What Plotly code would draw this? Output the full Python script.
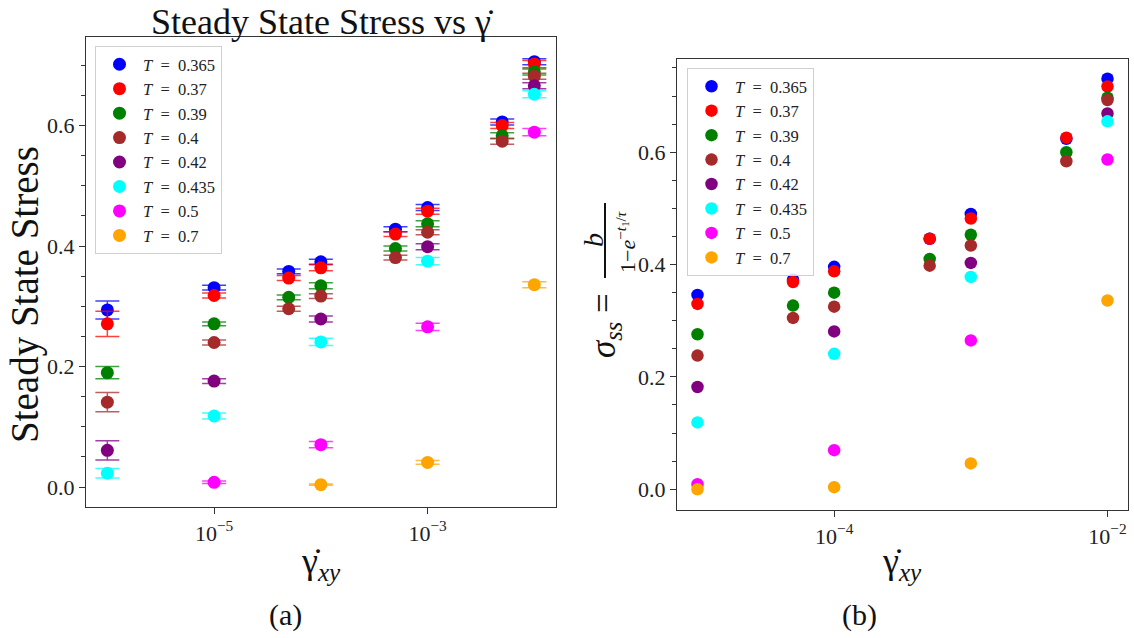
import plotly.graph_objects as go

# ---------------- panel (a): steady state stress with error bars ----------------
rates_a = [1e-6, 1e-5, 5e-5, 1e-4, 5e-4, 1e-3, 5e-3, 1e-2]

stress_a_T0365 = [0.294, 0.331, 0.358, 0.374, 0.428, 0.464, 0.606, 0.706]
stress_a_T037 = [0.271, 0.318, 0.347, 0.364, 0.420, 0.458, 0.600, 0.702]
stress_a_T039 = [0.190, 0.271, 0.315, 0.334, 0.396, 0.437, 0.583, 0.689]
stress_a_T04 = [0.141, 0.240, 0.296, 0.317, 0.381, 0.423, 0.574, 0.682]
stress_a_T042 = [0.061, 0.176, None, 0.279, None, 0.399, None, 0.666]
stress_a_T0435 = [0.023, 0.118, None, 0.241, None, 0.375, None, 0.652]
stress_a_T05 = [None, 0.008, None, 0.0705, None, 0.266, None, 0.589]
stress_a_T07 = [None, None, None, 0.004, None, 0.041, None, 0.336]

err_a_T0365 = [0.015, 0.004, 0.004, 0.004, 0.004, 0.005, 0.005, 0.005]
err_a_T037 = [0.021, 0.004, 0.004, 0.005, 0.004, 0.005, 0.005, 0.006]
err_a_T039 = [0.010, 0.003, 0.004, 0.005, 0.004, 0.005, 0.005, 0.005]
err_a_T04 = [0.016, 0.004, 0.004, 0.004, 0.004, 0.004, 0.005, 0.005]
err_a_T042 = [0.016, 0.004, None, 0.005, None, 0.005, None, 0.005]
err_a_T0435 = [0.008, 0.005, None, 0.006, None, 0.006, None, 0.006]
err_a_T05 = [None, 0.002, None, 0.005, None, 0.006, None, 0.006]
err_a_T07 = [None, None, None, 0.001, None, 0.003, None, 0.005]

# ---------------- panel (b): fitted sigma_ss ----------------
rates_b = [1e-5, 5e-5, 1e-4, 5e-4, 1e-3, 5e-3, 1e-2]

sigma_b_T0365 = [0.346, 0.373, 0.396, 0.446, 0.490, 0.624, 0.731]
sigma_b_T037 = [0.330, 0.369, 0.388, 0.446, 0.482, 0.626, 0.717]
sigma_b_T039 = [0.276, 0.327, 0.350, 0.410, 0.453, 0.600, 0.697]
sigma_b_T04 = [0.238, 0.305, 0.325, 0.398, 0.434, 0.584, 0.693]
sigma_b_T042 = [0.182, None, 0.281, None, 0.403, None, 0.669]
sigma_b_T0435 = [0.119, None, 0.241, None, 0.378, None, 0.655]
sigma_b_T05 = [0.009, None, 0.0695, None, 0.265, None, 0.587]
sigma_b_T07 = [0.000, None, 0.0036, None, 0.046, None, 0.336]

temperatures = ["0.365", "0.37", "0.39", "0.4", "0.42", "0.435", "0.5", "0.7"]
colors = ["#0000ff", "#ff0000", "#008000", "#a52a2a", "#800080", "#00ffff", "#ff00ff", "#ffa500"]
cap_colors = ["rgba(0,0,255,0.75)", "rgba(255,0,0,0.75)", "rgba(0,128,0,0.75)",
              "rgba(165,42,42,0.75)", "rgba(128,0,128,0.75)", "rgba(0,255,255,0.75)",
              "rgba(255,0,255,0.75)", "rgba(255,165,0,0.75)"]

xticks_a = [1e-5, 1e-3]
xticktext_a = ["10<sup>−5</sup>", "10<sup>−3</sup>"]
xticks_b = [1e-4, 1e-2]
xticktext_b = ["10<sup>−4</sup>", "10<sup>−2</sup>"]

series_a = [stress_a_T0365, stress_a_T037, stress_a_T039, stress_a_T04,
            stress_a_T042, stress_a_T0435, stress_a_T05, stress_a_T07]
errors_a = [err_a_T0365, err_a_T037, err_a_T039, err_a_T04,
            err_a_T042, err_a_T0435, err_a_T05, err_a_T07]
series_b = [sigma_b_T0365, sigma_b_T037, sigma_b_T039, sigma_b_T04,
            sigma_b_T042, sigma_b_T0435, sigma_b_T05, sigma_b_T07]

FONT = "Liberation Serif"
W, H = 1134, 638
EN = "\u2002"  # en space around the equals sign in legend labels
GAMMA_DOT = "\u03b3\u0307"

def legend_label(temp):
    return f"<i>T</i>{EN}={EN}{temp}"

fig = go.Figure()

for temp, col, cap, ys, es in zip(temperatures, colors, cap_colors, series_a, errors_a):
    pts = [(x, y, e) for x, y, e in zip(rates_a, ys, es) if y is not None]
    fig.add_trace(go.Scatter(
        x=[p[0] for p in pts], y=[p[1] for p in pts],
        mode="markers",
        marker=dict(color=col, size=13, line=dict(width=0)),
        error_y=dict(type="data", array=[p[2] for p in pts], visible=True,
                     color=cap, thickness=1.5, width=12),
        name=legend_label(temp),
        xaxis="x", yaxis="y", legend="legend",
    ))

for temp, col, ys in zip(temperatures, colors, series_b):
    pts = [(x, y) for x, y in zip(rates_b, ys) if y is not None]
    fig.add_trace(go.Scatter(
        x=[p[0] for p in pts], y=[p[1] for p in pts],
        mode="markers",
        marker=dict(color=col, size=12.5, line=dict(width=0)),
        name=legend_label(temp),
        xaxis="x2", yaxis="y2", legend="legend2",
    ))

frame = dict(showline=True, linecolor="#333333", linewidth=1.3, mirror=True,
             showgrid=False, zeroline=False, ticks="outside", ticklen=6,
             tickcolor="#333333", tickfont=dict(family=FONT, size=22, color="#222"))

yminor = dict(dtick=0.05, ticks="outside", ticklen=3.5, tickcolor="#333333", showgrid=False)

legend_style = dict(bgcolor="rgba(255,255,255,0.85)", bordercolor="#d0d0d0", borderwidth=1,
                    font=dict(family=FONT, size=16.5, color="#222"),
                    itemwidth=37, xanchor="left", yanchor="top")

fig.update_layout(
    width=W, height=H,
    margin=dict(l=0, r=0, t=0, b=0),
    paper_bgcolor="white", plot_bgcolor="white",
    xaxis=dict(domain=[86 / W, 556 / W], type="log", range=[-6.2, -1.797],
               tickvals=xticks_a, ticktext=xticktext_a, anchor="y", **frame),
    yaxis=dict(domain=[1 - 507 / H, 1 - 37 / H], range=[-0.033, 0.747],
               dtick=0.2, tick0=0, tickformat=".1f", anchor="x", minor=yminor, **frame),
    xaxis2=dict(domain=[677 / W, 1128 / W], type="log", range=[-5.15, -1.85],
                tickvals=xticks_b, ticktext=xticktext_b, anchor="y2", **frame),
    yaxis2=dict(domain=[1 - 510 / H, 1 - 59 / H], range=[-0.037, 0.766],
                dtick=0.2, tick0=0, tickformat=".1f", anchor="x2", minor=yminor, **frame),
    legend=dict(x=95 / W, y=1 - 46 / H, **legend_style),
    legend2=dict(x=687 / W, y=1 - 68 / H, **legend_style),
    showlegend=True,
)

text_font = dict(family=FONT, color="#111")
notes = [
    dict(text=f"Steady State Stress vs {GAMMA_DOT}", x=322 / W, y=1.0, size=36, angle=0, ya="top"),
    dict(text="Steady State Stress", x=25 / W, y=1 - 295 / H, size=39, angle=-90, ya="middle"),
    dict(text=f"{GAMMA_DOT}<sub><i>xy</i></sub>", x=321 / W, y=1 - 563 / H, size=36, angle=0, ya="middle"),
    dict(text=f"{GAMMA_DOT}<sub><i>xy</i></sub>", x=902 / W, y=1 - 563 / H, size=36, angle=0, ya="middle"),
    dict(text="(a)", x=285 / W, y=1 - 615 / H, size=30, angle=0, ya="middle"),
    dict(text="(b)", x=859 / W, y=1 - 615 / H, size=30, angle=0, ya="middle"),
    dict(text="<i>σ</i><sub><i>ss</i></sub> =", x=605 / W, y=1 - 326 / H, size=35, angle=-90, ya="middle"),
    dict(text="<i>b</i>", x=594 / W, y=1 - 240 / H, size=28, angle=-90, ya="middle"),
    dict(text="1−<i>e</i><sup>−<i>t</i><sub>1</sub>/<i>τ</i></sup>", x=626 / W, y=1 - 242 / H,
         size=22, angle=-90, ya="middle"),
]
for n in notes:
    fig.add_annotation(text=n["text"], x=n["x"], y=n["y"], xref="paper", yref="paper",
                       xanchor="center", yanchor=n["ya"], showarrow=False,
                       textangle=n["angle"], font=dict(size=n["size"], **text_font))

# fraction bar of the sigma_ss label
fig.add_shape(type="line", xref="paper", yref="paper",
              x0=605 / W, x1=605 / W, y0=1 - 203 / H, y1=1 - 278 / H,
              line=dict(color="#111", width=2))

fig.write_html("out.html")
